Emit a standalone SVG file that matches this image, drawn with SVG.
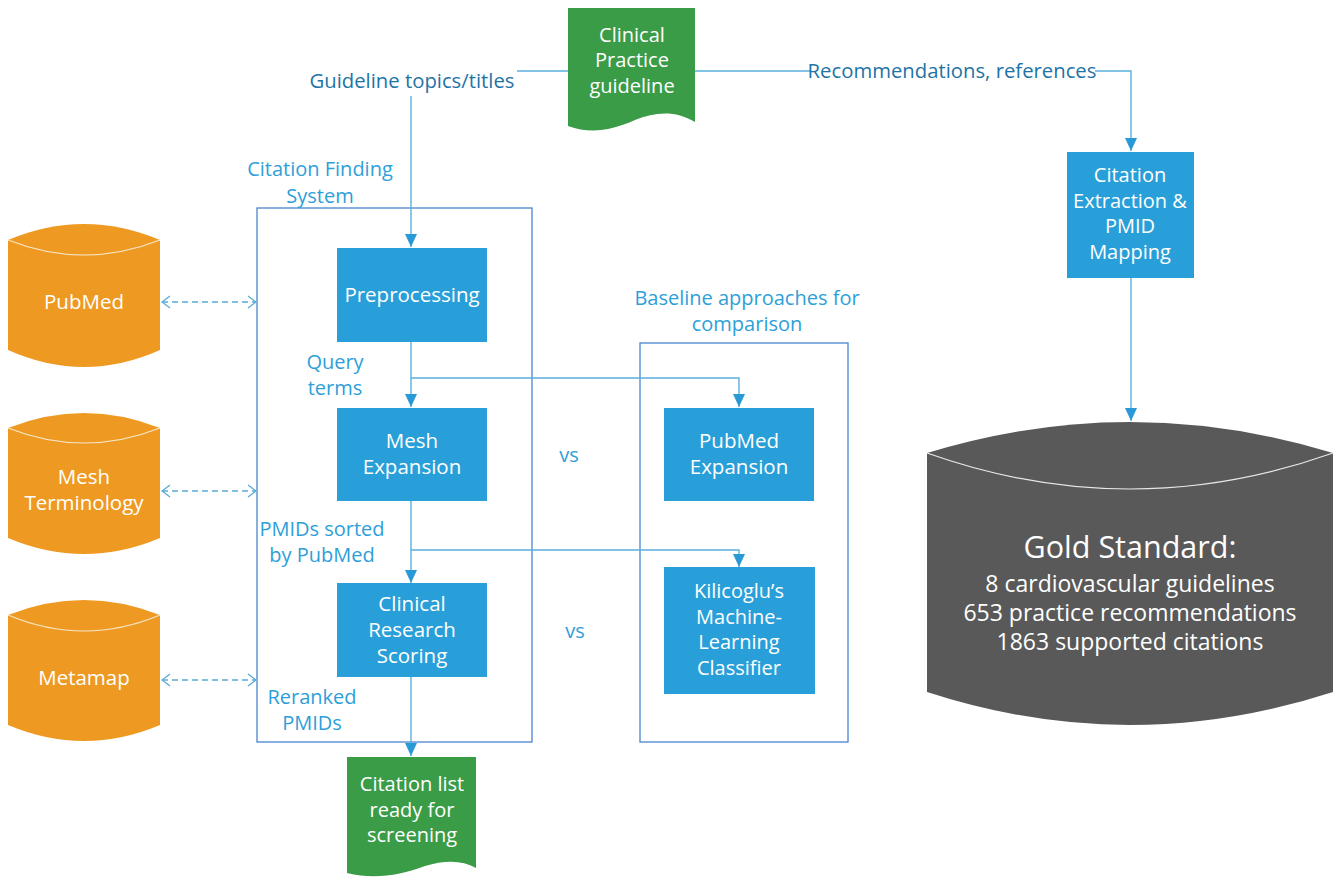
<svg xmlns="http://www.w3.org/2000/svg" width="1342" height="884" viewBox="0 0 1342 884">
<defs>
<marker id="ah" markerUnits="userSpaceOnUse" markerWidth="13" markerHeight="12" viewBox="0 0 13 12" refX="13" refY="6" orient="auto"><path d="M0,0 L13,6 L0,12 Z" fill="#2a9ad6"/></marker>
<marker id="oh" markerUnits="userSpaceOnUse" markerWidth="10" markerHeight="14" viewBox="0 0 10 14" refX="9" refY="7" orient="auto-start-reverse"><path d="M1,1 L9,7 L1,13" fill="none" stroke="#5aaad6" stroke-width="1.3"/></marker>
</defs>
<style>
.t{font-family:"Open Sans","Noto Sans","DejaVu Sans",sans-serif;text-anchor:middle}
.w{fill:#ffffff;font-size:20.5px}
.w2{fill:#ffffff;font-size:20px}
.lbl{fill:#2e9fd9;font-size:20px}
.dk{fill:#1e74a6;font-size:20.3px}
.box{fill:#299fd9}
.doc{fill:#3a9c47}
.cyl{fill:#ee9a22}
.gray{fill:#595959}
.inner{fill:none;stroke:#f6e6c8;stroke-width:1.2}
.frame{fill:none;stroke:#4b85cf;stroke-width:1.3}
.ln{fill:none;stroke:#5aafdf;stroke-width:1.4}
.dash{fill:none;stroke:#5aaad6;stroke-width:1.4;stroke-dasharray:6,4}
</style>
<rect width="1342" height="884" fill="#ffffff"/>

<g id="frames">
<rect id="cfs-frame" class="frame" x="257" y="208" width="275" height="534"/>
<rect id="baseline-frame" class="frame" x="640" y="343" width="208" height="399"/>
</g>

<g id="connectors">
<path class="ln" d="M568,71 H517"/>
<path class="ln" d="M411,96 V247" marker-end="url(#ah)"/>
<path class="ln" d="M694,71 H810"/>
<path class="ln" d="M1095,71 H1131 V151" marker-end="url(#ah)"/>
<path class="ln" d="M1131,278 V421" marker-end="url(#ah)"/>
<path class="ln" d="M411,342 V407" marker-end="url(#ah)"/>
<path class="ln" d="M411,378 H739 V407" marker-end="url(#ah)"/>
<path class="ln" d="M411,501 V583" marker-end="url(#ah)"/>
<path class="ln" d="M411,550 H739 V567" marker-end="url(#ah)"/>
<path class="ln" d="M411,677 V756" marker-end="url(#ah)"/>
<path class="dash" d="M162,302 H256" marker-start="url(#oh)" marker-end="url(#oh)"/>
<path class="dash" d="M162,491 H256" marker-start="url(#oh)" marker-end="url(#oh)"/>
<path class="dash" d="M162,680 H256" marker-start="url(#oh)" marker-end="url(#oh)"/>
</g>

<g id="labels">
<text class="t dk" x="412" y="88">Guideline topics/titles</text>
<text class="t dk" x="952" y="78">Recommendations, references</text>
<text class="t lbl" x="320" y="176">Citation Finding<tspan x="320" dy="27">System</tspan></text>
<text class="t lbl" x="747" y="305">Baseline approaches for<tspan x="747" dy="25.5">comparison</tspan></text>
<text class="t lbl" x="335" y="369">Query<tspan x="335" dy="25.5">terms</tspan></text>
<text class="t lbl" x="322" y="536">PMIDs sorted<tspan x="322" dy="26">by PubMed</tspan></text>
<text class="t lbl" x="312" y="704">Reranked<tspan x="312" dy="26">PMIDs</tspan></text>
<text class="t lbl" x="569" y="462">vs</text>
<text class="t lbl" x="575" y="638">vs</text>
</g>

<g id="clinical-practice-guideline">
<path class="doc" d="M568,8 H695 V122 C675,110 655,112 635,120 C610,131 590,134 568,126 Z"/>
<text class="t w2" x="632" y="41.5">Clinical<tspan x="632" dy="25.5">Practice</tspan><tspan x="632" dy="25.5">guideline</tspan></text>
</g>

<g id="citation-extraction">
<rect class="box" x="1067" y="152" width="127" height="126"/>
<text class="t w2" x="1130" y="182">Citation<tspan x="1130" dy="25.5">Extraction &amp;</tspan><tspan x="1130" dy="25.5">PMID</tspan><tspan x="1130" dy="25.5">Mapping</tspan></text>
</g>

<g id="gold-standard">
<path class="gray" d="M927,453 Q1130,391 1333,453 V692 Q1130,758 927,692 Z"/>
<path fill="none" stroke="#e8e8e8" stroke-width="1.2" d="M927,453 Q1130,525 1333,453"/>
<text class="t" x="1130" y="558" fill="#ffffff" font-size="30.5">Gold Standard:</text>
<text class="t" x="1130" y="592" fill="#ffffff" font-size="23">8 cardiovascular guidelines<tspan x="1130" dy="29">653 practice recommendations</tspan><tspan x="1130" dy="29">1863 supported citations</tspan></text>
</g>

<g id="pubmed-db">
<path class="cyl" d="M8,240 Q84,208 160,240 V350 Q84,384 8,350 Z"/>
<path class="inner" d="M8,240 Q84,270 160,240"/>
<text class="t w" x="84" y="309">PubMed</text>
</g>

<g id="mesh-terminology-db">
<path class="cyl" d="M8,428 Q84,398 160,428 V538 Q84,570 8,538 Z"/>
<path class="inner" d="M8,428 Q84,458 160,428"/>
<text class="t w" x="84" y="484">Mesh<tspan x="84" dy="26">Terminology</tspan></text>
</g>

<g id="metamap-db">
<path class="cyl" d="M8,615 Q84,585 160,615 V725 Q84,757 8,725 Z"/>
<path class="inner" d="M8,615 Q84,647 160,615"/>
<text class="t w" x="84" y="685">Metamap</text>
</g>

<g id="preprocessing">
<rect class="box" x="337" y="248" width="150" height="94"/>
<text class="t w" x="412" y="302">Preprocessing</text>
</g>

<g id="mesh-expansion">
<rect class="box" x="337" y="408" width="150" height="93"/>
<text class="t w" x="412" y="448">Mesh<tspan x="412" dy="26">Expansion</tspan></text>
</g>

<g id="clinical-research-scoring">
<rect class="box" x="337" y="583" width="150" height="94"/>
<text class="t w" x="412" y="611">Clinical<tspan x="412" dy="26">Research</tspan><tspan x="412" dy="26">Scoring</tspan></text>
</g>

<g id="pubmed-expansion">
<rect class="box" x="664" y="408" width="150" height="93"/>
<text class="t w" x="739" y="448">PubMed<tspan x="739" dy="26">Expansion</tspan></text>
</g>

<g id="kilicoglu-classifier">
<rect class="box" x="664" y="567" width="151" height="127"/>
<text class="t w2" x="739" y="598">Kilicoglu’s<tspan x="739" dy="25.5">Machine-</tspan><tspan x="739" dy="25.5">Learning</tspan><tspan x="739" dy="25.5">Classifier</tspan></text>
</g>

<g id="citation-list">
<path class="doc" d="M347,757 H476 V868 C462,860 445,860 425,866 C400,875 375,880 347,873 Z"/>
<text class="t w2" x="412" y="791">Citation list<tspan x="412" dy="25.5">ready for</tspan><tspan x="412" dy="25.5">screening</tspan></text>
</g>
</svg>
